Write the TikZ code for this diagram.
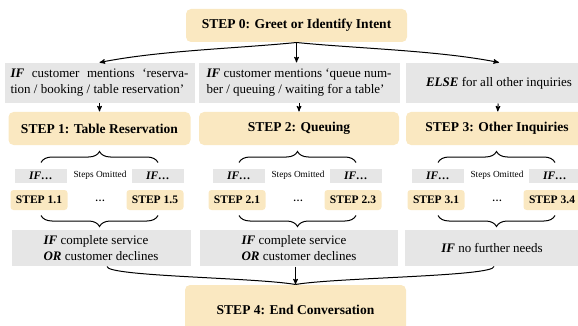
\documentclass[tikz,border=0pt]{standalone}
\usepackage{fontspec}
\setmainfont{Liberation Serif}
\usetikzlibrary{arrows,decorations.pathreplacing}
\definecolor{stepfill}{HTML}{FAE8C1}
\definecolor{condfill}{HTML}{E6E6E6}

\begin{document}
\begin{tikzpicture}[x=1pt,y=-1pt,->,>=stealth',line width=1pt]
  \tikzstyle{stepbox}=[fill=stepfill,draw=none,rounded corners=5pt,inner sep=0pt,minimum height=33pt,
                       font=\fontsize{13.5}{16}\selectfont\bfseries]
  \tikzstyle{condbox}=[fill=condfill,draw=none,inner sep=0pt,minimum height=40pt,
                       font=\fontsize{13}{16}\selectfont]
  \tikzstyle{ifbox}=[fill=condfill,draw=none,inner sep=0pt,minimum width=52pt,minimum height=14pt,
                     font=\fontsize{11.5}{13}\selectfont\bfseries\itshape]
  \tikzstyle{subbox}=[fill=stepfill,draw=none,rounded corners=3pt,inner sep=0pt,minimum width=57pt,minimum height=20pt,
                      font=\fontsize{11.5}{13}\selectfont\bfseries]
  \tikzstyle{omitted}=[inner sep=0pt,font=\fontsize{9.3}{11}\selectfont]
  \tikzstyle{brace}=[-,decorate,decoration={brace,amplitude=11pt}]

  \useasboundingbox (0,0) rectangle (578,326);
  \clip (0,0) rectangle (578,326);

  \node[stepbox,minimum width=221pt] (Greet) at (296.5,25.5) {STEP 0: Greet or Identify Intent};

  \node[condbox,minimum width=190pt,text width=178pt,align=justify] (CondRes) at (99.5,83)
    {\textbf{\textit{IF}} customer mentions ‘reserva-\linebreak tion / booking / table reservation’};
  \node[condbox,minimum width=201pt,text width=185pt,align=justify] (CondQueue) at (299,83)
    {\textbf{\textit{IF}} customer mentions ‘queue num-\linebreak ber / queuing / waiting for a table’};
  \node[condbox,minimum width=186pt,align=center] (CondElse) at (499,83)
    {\textbf{\textit{ELSE}} for all other inquiries};

  \node[stepbox,minimum width=182pt] (Res)   at (99.5,128.5) {STEP 1: Table Reservation};
  \node[stepbox,minimum width=200pt] (Queue) at (299,128.5)  {STEP 2: Queuing};
  \node[stepbox,minimum width=182pt] (Other) at (497,128.5)  {STEP 3: Other Inquiries};

  \node[ifbox]   (ResIfA)    at (41,176)  {IF\ldots};
  \node[ifbox]   (ResIfB)    at (158,176) {IF\ldots};
  \node[omitted] (ResOmit)   at (100,175) {Steps Omitted};
  \node[subbox]  (ResFirst)  at (39,200)  {STEP 1.1};
  \node[subbox]  (ResLast)   at (155,200) {STEP 1.5};
  \node          (ResDots)   at (100,201) {\textbf{\ldots}};

  \node[ifbox]   (QueueIfA)   at (239,176) {IF\ldots};
  \node[ifbox]   (QueueIfB)   at (356,176) {IF\ldots};
  \node[omitted] (QueueOmit)  at (298,175) {Steps Omitted};
  \node[subbox]  (QueueFirst) at (237,200) {STEP 2.1};
  \node[subbox]  (QueueLast)  at (353,200) {STEP 2.3};
  \node          (QueueDots)  at (298,201) {\textbf{\ldots}};

  \node[ifbox]   (OtherIfA)   at (438,176) {IF\ldots};
  \node[ifbox]   (OtherIfB)   at (555,176) {IF\ldots};
  \node[omitted] (OtherOmit)  at (497,175) {Steps Omitted};
  \node[subbox]  (OtherFirst) at (436,200) {STEP 3.1};
  \node[subbox]  (OtherLast)  at (552,200) {STEP 3.4};
  \node          (OtherDots)  at (497,201) {\textbf{\ldots}};

  \node[condbox,minimum width=179pt,minimum height=36pt,align=left] (ExitRes) at (101,248)
    {\textbf{\textit{IF}} complete service\\\textbf{\textit{OR}} customer declines};
  \node[condbox,minimum width=198pt,minimum height=36pt,align=left] (ExitQueue) at (299,248)
    {\textbf{\textit{IF}} complete service\\\textbf{\textit{OR}} customer declines};
  \node[condbox,minimum width=175pt,minimum height=36pt] (ExitOther) at (492,248)
    {\textbf{\textit{IF}} no further needs};

  \node[stepbox,minimum width=221pt,minimum height=50pt] (End) at (295.5,310) {STEP 4: End Conversation};

  \draw (Greet.south) .. controls +(-60,6) and +(60,-12) .. (CondRes.north);
  \draw (Greet.south) -- (Greet.south |- CondQueue.north);
  \draw (Greet.south) .. controls +(60,6) and +(-60,-12) .. (CondElse.north);

  \path (CondRes)   edge (Res)
        (CondQueue) edge (Queue)
        (CondElse)  edge (Other);

  \draw[brace] ([yshift=6pt]ResIfA.north) -- ([yshift=6pt]ResIfB.north);
  \draw[brace] ([yshift=-32pt]ResIfB.south) -- ([yshift=-32pt]ResIfA.south);
  \draw[brace] ([yshift=6pt]QueueIfA.north) -- ([yshift=6pt]QueueIfB.north);
  \draw[brace] ([yshift=-32pt]QueueIfB.south) -- ([yshift=-32pt]QueueIfA.south);
  \draw[brace] ([yshift=6pt]OtherIfA.north) -- ([yshift=6pt]OtherIfB.north);
  \draw[brace] ([yshift=-32pt]OtherIfB.south) -- ([yshift=-32pt]OtherIfA.south);

  \draw (End.north |- ExitQueue.south) -- (End.north);
  \draw[-] ([xshift=6pt]ExitRes.south) .. controls +(0,10) and +(-40,-7) .. (End.north);
  \draw[-] ([xshift=2pt]ExitOther.south) .. controls +(0,10) and +(40,-7) .. (End.north);
\end{tikzpicture}
\end{document}
